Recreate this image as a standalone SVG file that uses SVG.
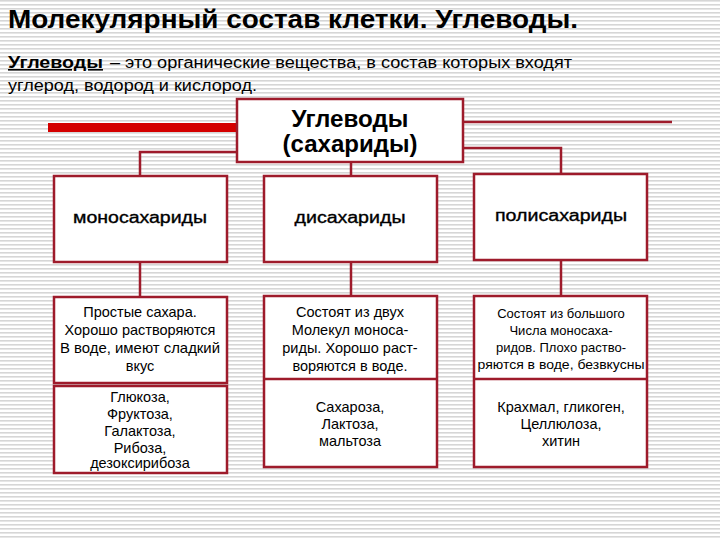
<svg xmlns="http://www.w3.org/2000/svg" width="720" height="540" viewBox="0 0 720 540">
<defs>
<pattern id="stripes" width="4" height="4" patternUnits="userSpaceOnUse">
<rect width="4" height="4" fill="#ffffff"/>
<rect y="0" width="4" height="1.6" fill="#d6d6d6"/>
</pattern>
<style>
.box{fill:#ffffff;stroke:#9e1b2b;stroke-width:2.5}
.conn{fill:none;stroke:#9e1b2b;stroke-width:2.5}
.t{font-family:"Liberation Sans",Arial,sans-serif;fill:#000;text-anchor:middle}
.h{font-size:16px;stroke:#000;stroke-width:0.35}
.d{font-size:14.5px}
.big{font-size:24px;font-weight:bold}
</style>
</defs>
<rect width="720" height="540" fill="url(#stripes)"/>

<text x="8" y="28" font-family="'Liberation Sans',Arial,sans-serif" font-size="26" font-weight="bold" textLength="570" lengthAdjust="spacingAndGlyphs">Молекулярный состав клетки. Углеводы.</text>
<text x="8" y="68" font-family="'Liberation Sans',Arial,sans-serif" font-size="16" font-weight="bold" text-decoration="underline" textLength="95" lengthAdjust="spacingAndGlyphs">Углеводы </text>
<text x="110" y="68" font-family="'Liberation Sans Narrow','Liberation Sans',Arial,sans-serif" font-size="16" textLength="462" lengthAdjust="spacingAndGlyphs">– это органические вещества, в состав которых входят</text>
<text x="8" y="91" font-family="'Liberation Sans Narrow','Liberation Sans',Arial,sans-serif" font-size="16" textLength="249" lengthAdjust="spacingAndGlyphs">углерод, водород и кислород.</text>

<g id="connectors">
<rect x="48" y="123" width="190" height="9" fill="#d40000"/>
<line class="conn" x1="463" y1="122" x2="672" y2="122"/>
<polyline class="conn" points="237,152 140,152 140,176"/>
<line class="conn" x1="351" y1="162" x2="351" y2="176"/>
<polyline class="conn" points="463,148 561,148 561,174"/>
<line class="conn" x1="140" y1="262" x2="140" y2="297"/>
<line class="conn" x1="351" y1="262" x2="351" y2="296"/>
<line class="conn" x1="561" y1="260" x2="561" y2="296"/>
</g>

<g id="root">
<rect class="box" x="237" y="99" width="226" height="63"/>
<text class="t big" x="350" y="127" textLength="117" lengthAdjust="spacingAndGlyphs">Углеводы</text>
<text class="t big" x="350" y="152" textLength="135" lengthAdjust="spacingAndGlyphs">(сахариды)</text>
</g>

<g id="mono">
<rect class="box" x="54" y="176" width="173" height="86"/>
<text class="t h" x="140" y="223" textLength="134" lengthAdjust="spacingAndGlyphs">моносахариды</text>
</g>
<g id="di">
<rect class="box" x="264" y="176" width="173" height="86"/>
<text class="t h" x="350" y="223" textLength="111" lengthAdjust="spacingAndGlyphs">дисахариды</text>
</g>
<g id="poly">
<rect class="box" x="474" y="174" width="173" height="86"/>
<text class="t h" x="561" y="221" textLength="132" lengthAdjust="spacingAndGlyphs">полисахариды</text>
</g>

<g id="mono-desc">
<rect class="box" x="54" y="297" width="173" height="86"/>
<text class="t d" x="140" y="317">Простые сахара.</text>
<text class="t d" x="140" y="335">Хорошо растворяются</text>
<text class="t d" x="140" y="353" textLength="160" lengthAdjust="spacingAndGlyphs">В воде, имеют сладкий</text>
<text class="t d" x="140" y="371">вкус</text>
</g>
<g id="mono-ex">
<rect class="box" x="54" y="386" width="173" height="87"/>
<text class="t d" x="140" y="402">Глюкоза,</text>
<text class="t d" x="140" y="419">Фруктоза,</text>
<text class="t d" x="140" y="436">Галактоза,</text>
<text class="t d" x="140" y="453">Рибоза,</text>
<text class="t d" x="140" y="468">дезоксирибоза</text>
</g>

<g id="di-desc">
<rect class="box" x="264" y="296" width="173" height="171"/>
<line class="conn" x1="264" y1="379" x2="437" y2="379"/>
<text class="t d" x="350" y="317">Состоят из двух</text>
<text class="t d" x="350" y="335">Молекул моноса-</text>
<text class="t d" x="350" y="353">риды. Хорошо раст-</text>
<text class="t d" x="350" y="371">воряются в воде.</text>
<text class="t d" x="350" y="412">Сахароза,</text>
<text class="t d" x="350" y="429">Лактоза,</text>
<text class="t d" x="350" y="446">мальтоза</text>
</g>

<g id="poly-desc">
<rect class="box" x="474" y="296" width="173" height="171"/>
<line class="conn" x1="474" y1="379" x2="647" y2="379"/>
<text class="t" font-size="13" x="561" y="318">Состоят из большого</text>
<text class="t" font-size="13" x="561" y="335">Числа моносаха-</text>
<text class="t" font-size="13" x="561" y="352">ридов. Плохо раство-</text>
<text class="t" font-size="13" x="561" y="369" textLength="167" lengthAdjust="spacingAndGlyphs">ряются в воде, безвкусны</text>
<text class="t d" x="561" y="412">Крахмал, гликоген,</text>
<text class="t d" x="561" y="429">Целлюлоза,</text>
<text class="t d" x="561" y="446">хитин</text>
</g>
</svg>
